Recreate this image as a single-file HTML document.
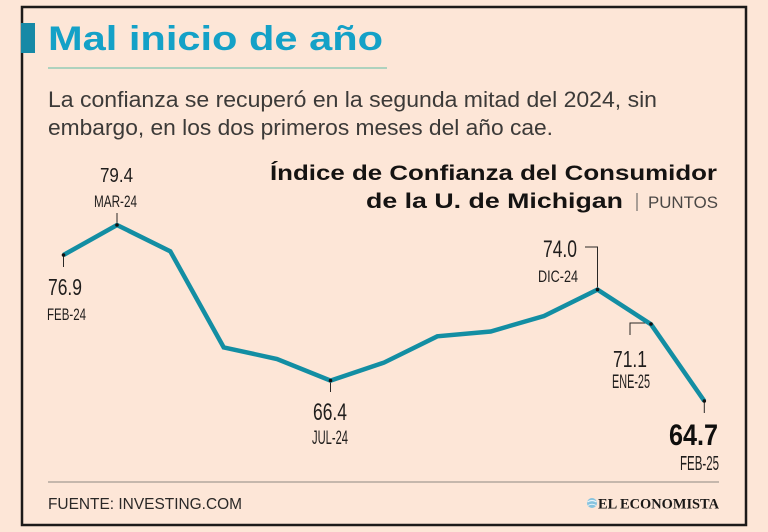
<!DOCTYPE html>
<html>
<head>
<meta charset="utf-8">
<style>
  html,body{margin:0;padding:0;background:#fde6d7;}
  svg{display:block;}
  .sans{font-family:"Liberation Sans",sans-serif;}
  .narrow{font-family:"Liberation Sans Narrow","Liberation Sans",sans-serif;}
  .serif{font-family:"Liberation Serif",serif;}
</style>
</head>
<body>
<svg width="768" height="532" viewBox="0 0 768 532" xmlns="http://www.w3.org/2000/svg">
  <rect x="0" y="0" width="768" height="532" fill="#fde6d7"/>
  <!-- frame -->
  <rect x="22" y="7" width="724" height="518" fill="none" stroke="#1c1a19" stroke-width="2.5"/>

  <!-- title -->
  <rect x="21" y="23" width="14" height="30" fill="#1689a6"/>
  <text x="48" y="50" class="sans" font-size="34" font-weight="bold" fill="#14a1c7" textLength="335" lengthAdjust="spacingAndGlyphs">Mal inicio de año</text>
  <line x1="48" y1="68" x2="387" y2="68" stroke="#5fbfa6" stroke-width="1"/>

  <!-- subtitle -->
  <text x="48" y="107" class="sans" font-size="22" fill="#3c3a38" textLength="609" lengthAdjust="spacingAndGlyphs">La confianza se recuperó en la segunda mitad del 2024, sin</text>
  <text x="48" y="135" class="sans" font-size="22" fill="#3c3a38" textLength="505" lengthAdjust="spacingAndGlyphs">embargo, en los dos primeros meses del año cae.</text>

  <!-- chart title -->
  <text x="270" y="180" class="sans" font-size="21" font-weight="bold" fill="#151312" textLength="447" lengthAdjust="spacingAndGlyphs">Índice de Confianza del Consumidor</text>
  <text x="366" y="208" class="sans" font-size="21" font-weight="bold" fill="#151312" textLength="257" lengthAdjust="spacingAndGlyphs">de la U. de Michigan</text>
  <line x1="637" y1="193" x2="637" y2="211" stroke="#555" stroke-width="1"/>
  <text x="648" y="208" class="sans" font-size="17" fill="#4a4745" textLength="70" lengthAdjust="spacingAndGlyphs">PUNTOS</text>

  <!-- ticks / leaders -->
  <g stroke="#2a2826" stroke-width="1" fill="none">
    <line x1="63.5" y1="255" x2="63.5" y2="267"/>
    <line x1="117" y1="213" x2="117" y2="225"/>
    <line x1="330.5" y1="380" x2="330.5" y2="392"/>
    <polyline points="585,247 597.5,247 597.5,289"/>
    <polyline points="651,323 630,323 630,335"/>
    <line x1="704.3" y1="401" x2="704.3" y2="413"/>
  </g>

  <!-- line series -->
  <polyline fill="none" stroke="#138ea3" stroke-width="4.5" stroke-linejoin="miter" stroke-miterlimit="4"
    points="63.5,255 117,225 170.3,251.3 223.7,347.4 277,359 330.5,380.6 384,362.6 437.3,336.3 490.7,331.5 544,316 597.5,289.6 651,324.3 704.3,401"/>

  <!-- dots -->
  <g fill="#111">
    <circle cx="63.5" cy="255" r="1.8"/>
    <circle cx="117" cy="225" r="1.8"/>
    <circle cx="330.5" cy="380.6" r="1.8"/>
    <circle cx="597.5" cy="289.6" r="1.8"/>
    <circle cx="651" cy="324" r="1.8"/>
    <circle cx="704.3" cy="401" r="1.8"/>
  </g>

  <!-- labels -->
  <g class="narrow" fill="#1f1d1c">
    <text x="100" y="182" font-size="20" textLength="33" lengthAdjust="spacingAndGlyphs">79.4</text>
    <text x="94" y="207" font-size="17" textLength="43" lengthAdjust="spacingAndGlyphs">MAR-24</text>

    <text x="48" y="295" font-size="23" textLength="34" lengthAdjust="spacingAndGlyphs">76.9</text>
    <text x="47" y="320" font-size="17" textLength="39" lengthAdjust="spacingAndGlyphs">FEB-24</text>

    <text x="313" y="420" font-size="24" textLength="34" lengthAdjust="spacingAndGlyphs">66.4</text>
    <text x="312" y="444" font-size="19" textLength="36" lengthAdjust="spacingAndGlyphs">JUL-24</text>

    <text x="543" y="257" font-size="24" textLength="34" lengthAdjust="spacingAndGlyphs">74.0</text>
    <text x="538" y="282" font-size="17" textLength="40" lengthAdjust="spacingAndGlyphs">DIC-24</text>

    <text x="613" y="367" font-size="23" textLength="34" lengthAdjust="spacingAndGlyphs">71.1</text>
    <text x="612" y="388" font-size="19" textLength="38" lengthAdjust="spacingAndGlyphs">ENE-25</text>

    <text x="669" y="445" font-size="30" font-weight="bold" fill="#0f0e0d" textLength="49" lengthAdjust="spacingAndGlyphs">64.7</text>
    <text x="680" y="470" font-size="20" textLength="39" lengthAdjust="spacingAndGlyphs">FEB-25</text>
  </g>

  <!-- footer -->
  <line x1="48" y1="482" x2="719" y2="482" stroke="#8d8882" stroke-width="1"/>
  <text x="48" y="509" class="sans" font-size="16" fill="#2a2827" textLength="194" lengthAdjust="spacingAndGlyphs">FUENTE: INVESTING.COM</text>

  <circle cx="592" cy="503" r="5" fill="#86c3de"/>
  <path d="M587.5,502 q4.5,-3 9,0" stroke="#e8f4fa" stroke-width="1.2" fill="none"/>
  <path d="M588,505.5 q4,-2.5 8,0" stroke="#e8f4fa" stroke-width="1" fill="none"/>
  <text x="598" y="508.5" class="serif" font-size="15" font-weight="bold" fill="#1a1817" textLength="121" lengthAdjust="spacingAndGlyphs">EL ECONOMISTA</text>
</svg>
</body>
</html>
